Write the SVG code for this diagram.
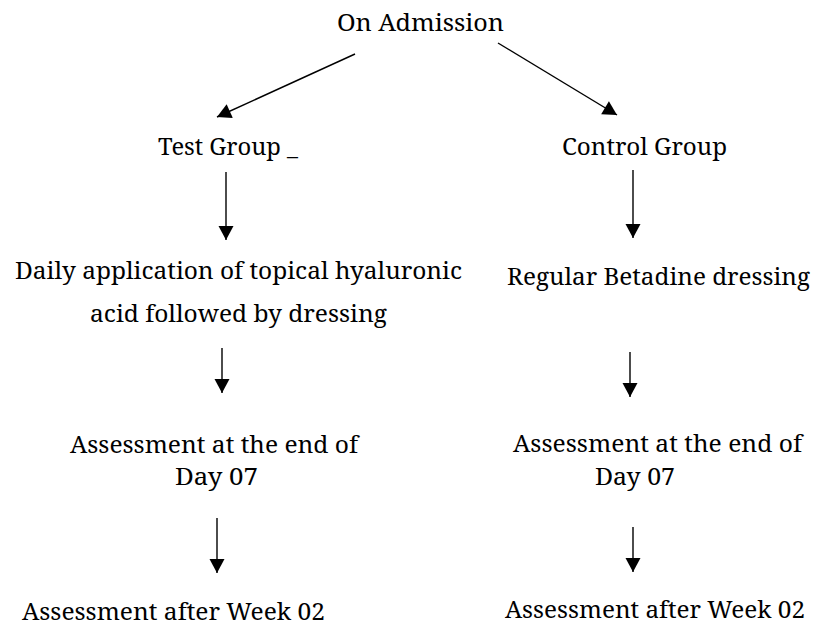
<svg xmlns="http://www.w3.org/2000/svg" width="813" height="627" viewBox="0 0 813 627">
  <style>
    text { font-family: 'Noto Serif', 'DejaVu Serif', serif; font-size: 24px; fill: #000; text-anchor: middle; }
    .conn line { stroke: #000; stroke-width: 1.4; fill: none; marker-end: url(#arrow); }
  </style>
  <defs>
    <marker id="arrow" markerUnits="userSpaceOnUse" markerWidth="16" markerHeight="16" viewBox="0 0 14 16" refX="14" refY="8" orient="auto">
      <path d="M0,0.5 L14,8 L0,15.5 Z" fill="#000"/>
    </marker>
  </defs>
  <rect width="813" height="627" fill="#fff"/>

  <g id="on-admission"><text x="420.5" y="31" textLength="167" lengthAdjust="spacingAndGlyphs">On Admission</text></g>
  <g id="test-group"><text x="158" y="155" style="text-anchor:start" textLength="140" lengthAdjust="spacingAndGlyphs">Test Group _</text></g>
  <g id="control-group"><text x="644.5" y="155" textLength="165" lengthAdjust="spacingAndGlyphs">Control Group</text></g>
  <g id="test-treatment">
    <text x="238.5" y="279" textLength="447" lengthAdjust="spacingAndGlyphs">Daily application of topical hyaluronic</text>
    <text x="238.5" y="322" textLength="297" lengthAdjust="spacingAndGlyphs">acid followed by dressing</text>
  </g>
  <g id="control-treatment"><text x="658.5" y="285" textLength="303" lengthAdjust="spacingAndGlyphs">Regular Betadine dressing</text></g>
  <g id="test-day7">
    <text x="214" y="453" textLength="288" lengthAdjust="spacingAndGlyphs">Assessment at the end of</text>
    <text x="216.5" y="485" textLength="83" lengthAdjust="spacingAndGlyphs">Day 07</text>
  </g>
  <g id="control-day7">
    <text x="657.5" y="452" textLength="289" lengthAdjust="spacingAndGlyphs">Assessment at the end of</text>
    <text x="635" y="485" textLength="80" lengthAdjust="spacingAndGlyphs">Day 07</text>
  </g>
  <g id="test-week2"><text x="173.5" y="620" textLength="303" lengthAdjust="spacingAndGlyphs">Assessment after Week 02</text></g>
  <g id="control-week2"><text x="655" y="618" textLength="300" lengthAdjust="spacingAndGlyphs">Assessment after Week 02</text></g>

  <g id="connectors" class="conn">
    <line x1="355" y1="54" x2="217" y2="117"/>
    <line x1="498" y1="43" x2="617" y2="115"/>
    <line x1="226" y1="172" x2="226" y2="240"/>
    <line x1="633" y1="170" x2="633" y2="238"/>
    <line x1="222" y1="348" x2="222" y2="393"/>
    <line x1="630" y1="352" x2="630" y2="397"/>
    <line x1="217" y1="518" x2="217" y2="573"/>
    <line x1="633" y1="527" x2="633" y2="572"/>
  </g>
</svg>
